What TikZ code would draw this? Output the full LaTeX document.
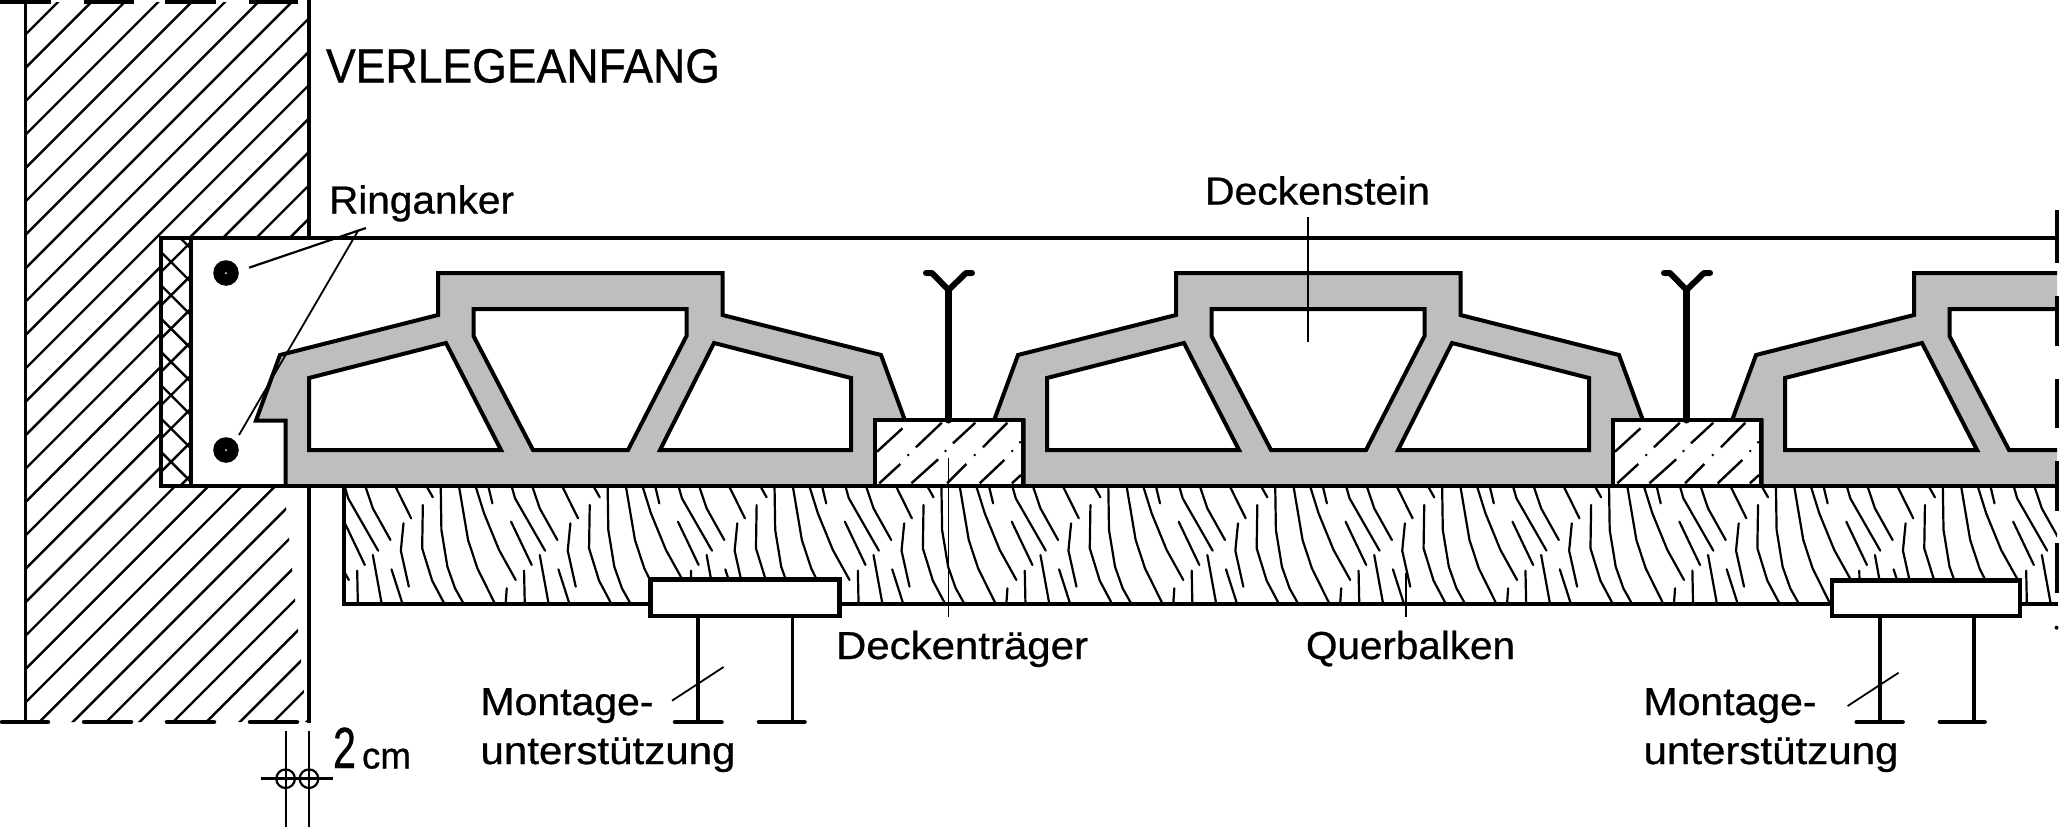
\documentclass[tikz,border=0pt]{standalone}
\usepackage{graphicx}
\usepackage{fontspec}
\setmainfont{Liberation Sans}
\newfontfamily\labfont[FakeBold=0.7]{Liberation Sans}
\definecolor{blockgray}{HTML}{BEBEBE}
\tikzset{
  heavy/.style={line width=4pt,line cap=butt,line join=miter},
  wallline/.style={line width=3.8pt,line cap=butt},
  hatchline/.style={line width=2.4pt},
  grainline/.style={line width=2.2pt,line cap=round,line join=round},
  leader/.style={line width=1.8pt},
  label/.style={anchor=base west,inner sep=0pt,outer sep=0pt},
}
\newcommand{\lab}[6]{\node[label] (#1) at (#2,#3) {\resizebox{#5pt}{\height}{\labfont\fontsize{#4pt}{#4pt}\selectfont #6}};}
\newcommand{\deckblock}[1]{%
  \begin{scope}[xshift=#1pt]
    \path[fill=blockgray,even odd rule]
      (-294.5,486)--(-294.5,420.5)--(-324,420.5)--(-300,355)--(-142,315)--(-142,273)--(142.5,273)--(142.5,315)--(301,355)--(325,420.5)--(295,420.5)--(295,486)--cycle
      (-106.5,309)--(106.5,309)--(106.5,336)--(48,450)--(-47,450)--(-106.5,336)--cycle
      (-271,378)--(-134,343)--(-79,450)--(-271,450)--cycle
      (271,378)--(134,343)--(80,450)--(271,450)--cycle;
    \draw[heavy] (-294.5,486)--(-294.5,420.5)--(-324,420.5)--(-300,355)--(-142,315)--(-142,273)--(142.5,273)--(142.5,315)--(301,355)--(325,420.5)--(295,420.5)--(295,486);
    \draw[heavy] (-106.5,309)--(106.5,309)--(106.5,336)--(48,450)--(-47,450)--(-106.5,336)--cycle;
    \draw[heavy] (-271,378)--(-134,343)--(-79,450)--(-271,450)--cycle;
    \draw[heavy] (271,378)--(134,343)--(80,450)--(271,450)--cycle;
  \end{scope}}
\newcommand{\traeger}[1]{%
  \begin{scope}[xshift=#1pt]
    \draw[heavy,fill=white] (0,420)--(147.5,420)--(147.5,486)--(0,486)--cycle;
    \draw[hatchline]
      (2,451.7)--(27.5,428.3) (40.9,447.3)--(66.8,422.7) (78,443.3)--(100.3,422.7) (107.9,447.3)--(132.4,422.7)
      (4.3,483.3)--(25.3,464) (36.4,483.3)--(63.2,459.3) (72.1,483.3)--(91.3,464) (104.7,483.3)--(129.3,460) (136.9,483.3)--(146,475);
    \foreach \dx/\dy in {33.3/455,70.4/451,99.8/455,137.3/451,145/442.3}
      \fill (\dx,\dy) circle (1.4pt);
    \draw[line width=7pt,line cap=round] (73.5,420)--(73.5,290);
    \draw[line width=6pt,line cap=round,line join=round] (51,273)--(57,273)--(73.5,290)--(91,273)--(97,273);
  \end{scope}}
\newcommand{\support}[9]{%
  \draw[line width=4.5pt,fill=white] (#1,#3)rectangle(#2,616);
  \draw[wallline] (#4,616)--(#4,722) (#5,616)--(#5,722);
  \draw[line width=4.5pt,line cap=round] (#6,722)--(#7,722) (#8,722)--(#9,722);}
\begin{document}
\begin{tikzpicture}[x=1pt,y=-1pt]
\useasboundingbox (0,0) rectangle (2059,827);
% wall hatching
\begin{scope}
  \clip (25.5,2)--(309,2)--(309,238)--(161,238)--(161,486)--(284,486)--(307,722)--(25.5,722)--cycle;
  \foreach \k in {0,...,29}{
    \pgfmathsetmacro{\c}{60+33.4*\k}
    \draw[hatchline] (\c,0)--(0,\c);
  }
\end{scope}
% wall outline
\draw[wallline] (25.5,0)--(25.5,722);
\draw[wallline] (309,0)--(309,238) (309,486)--(309,723);
\foreach \a/\b in {0/51,83.5/134,165/216,249/298}
  \draw[line width=4.5pt] (\a,1.5)--(\b,1.5);
\foreach \a/\b in {2/48,84/131,167/214,250/297}
  \draw[line width=4.5pt,line cap=round] (\a,722)--(\b,722);
% insulation
\begin{scope}
  \clip (161,238) rectangle (189,486);
  \foreach \k in {-1,...,8}{
    \pgfmathsetmacro{\c}{433+33.3*\k}
    \draw[hatchline] (191,\c-191)--(161,\c-161);
    \pgfmathsetmacro{\d}{91+33.3*\k}
    \draw[hatchline] (161,\d+161)--(191,\d+191);
  }
\end{scope}
% blocks
\begin{scope}
  \clip (0,0) rectangle (2057,827);
  \deckblock{580}
  \deckblock{1318}
  \deckblock{2056}
\end{scope}
\traeger{875}
\traeger{1613}
% slab outline
\draw[heavy] (2057,238)--(161,238)--(161,486)--(2057,486);
\draw[heavy] (191,238)--(191,486);
% reinforcement bars
\foreach \n/\yy in {a/273,b/450}{
  \fill (226,\yy) circle (12.8pt);
  \fill[white] (226,\yy) circle (1pt);
}
% beam grain
\begin{scope}
  \clip (344,486) rectangle (2057,604);
  \foreach \n in {-6,...,6}{
    \pgfmathsetmacro{\xs}{1100+166.9*\n}
    \begin{scope}[shift={(\xs,480)},x=0.33333pt,y=-0.33333pt]
      \draw[grainline] (25,20)--(27,150)--(45,260)--(68,325)--(92,368);
      \draw[grainline] (80,20)--(107,180)--(135,265)--(186,368);
      \draw[grainline] (130,20)--(155,100)--(200,210)--(250,300);
      \draw[grainline] (168,20)--(180,70);
      \draw[grainline] (238,20)--(248,55)--(338,212);
      \draw[grainline] (300,20)--(322,85)--(375,180);
      \draw[grainline] (390,20)--(437,115);
      \draw[grainline] (484,20)--(502,52);
      \draw[grainline] (236,125)--(298,255);
      \draw[grainline] (472,75)--(470,205)--(500,302)--(535,368);
      \draw[grainline] (414,130)--(406,212)--(430,320);
      \draw[grainline] (322,225)--(348,368);
      \draw[grainline] (378,268)--(410,368);
      \draw[grainline] (275,272)--(277,368);
      \draw[grainline] (223,325)--(220,368);
    \end{scope}
  }
\end{scope}
\draw[heavy] (344,486)--(344,604)--(2058,604);
% right break line
\foreach \a/\b in {210/263,296/346,379/428,461/511,543/593}
  \draw[line width=4pt] (2056.5,\a)--(2056.5,\b);
\fill (2056.5,627.7) circle (2pt);
% supports
\support{650.5}{839.5}{579.5}{698}{792.4}{675}{721.5}{759}{804.5}
\support{1832}{2020}{580.5}{1879.7}{1974}{1856.7}{1902.6}{1939.8}{1984.6}
% dimension
\draw[leader] (285.6,731)--(285.6,827) (309,731)--(309,827);
\draw[line width=2.8pt] (261,778.7)--(333,778.7);
\draw[line width=2.2pt] (285.6,778.7) circle (9.3pt) (309,778.7) circle (9.3pt);
% labels
\lab{verlege}{326}{82.5}{48}{394}{VERLEGEANFANG}
\lab{ring}{329}{213.5}{39}{185}{Ringanker}
\lab{stein}{1205}{204.5}{39}{225}{Deckenstein}
\lab{traegerlab}{836}{659}{39}{252}{Deckenträger}
\lab{quer}{1306}{659}{39}{209}{Querbalken}
\lab{mont}{480.5}{715}{39}{173}{Montage-}
\lab{unter}{480.5}{764}{39}{255}{unterstützung}
\lab{montb}{1643.5}{715}{39}{173}{Montage-}
\lab{unterb}{1643.5}{764}{39}{255}{unterstützung}
\lab{zwei}{333}{768}{58}{23}{2}
\lab{cm}{362}{768.5}{37}{49}{cm}
% leaders
\coordinate (ra) at (366,228);
\coordinate (rb) at (358.5,230);
\draw[line width=2.2pt] (249,267.7)--(ra);
\draw[leader] (rb)--(239,435);
\draw[leader] (1308,217)--(1308,342);
\draw[leader] (948.5,458)--(948.5,617);
\draw[leader] (1406,573)--(1406,617);
\draw[leader] (672,700.7)--(723.6,667);
\draw[leader] (1847.6,706)--(1898.6,672.7);
\end{tikzpicture}
\end{document}
